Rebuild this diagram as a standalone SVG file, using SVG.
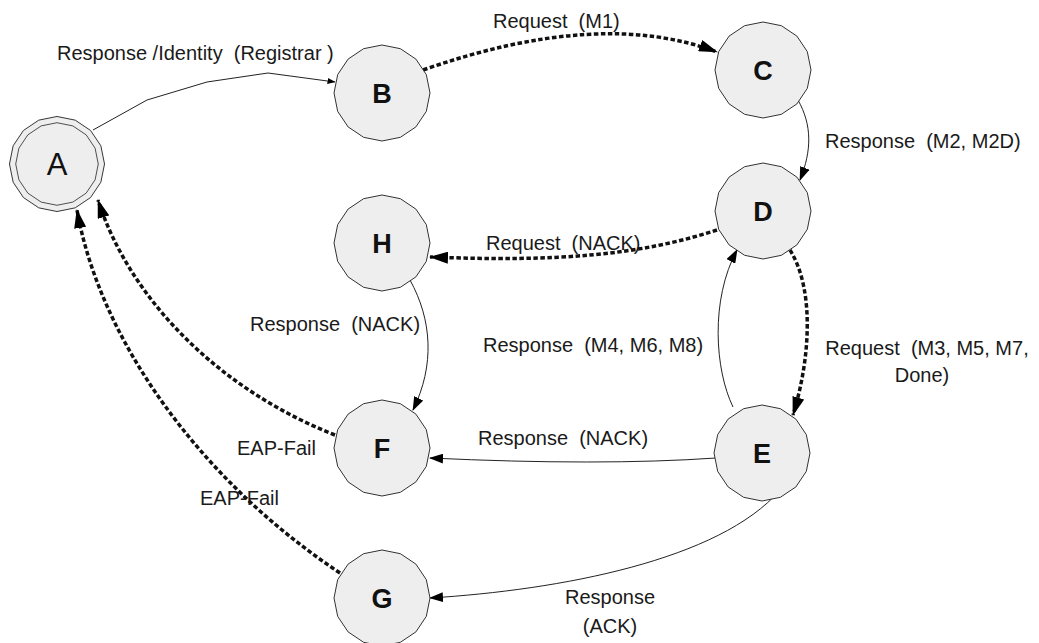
<svg xmlns="http://www.w3.org/2000/svg" xmlns:xlink="http://www.w3.org/1999/xlink" width="1039" height="643" viewBox="0 0 1039 643" xml:space="preserve">
  <style>
    .bg { fill: #ffffff; }
    .state { fill: #eeeeee; stroke: #333333; stroke-width: 1; }
    .name { font-family: "Liberation Sans", Arial, sans-serif; font-size: 27px; font-weight: bold; fill: #111111; text-anchor: middle; }
    .start-name { font-family: "Liberation Sans", Arial, sans-serif; font-size: 31px; fill: #111111; text-anchor: middle; }
    .label { font-family: "Liberation Sans", Arial, sans-serif; font-size: 20px; fill: #1a1a1a; white-space: pre; }
    .solid { fill: none; stroke: #222222; stroke-width: 1; }
    .dotted { fill: none; stroke: #111111; stroke-width: 3.5; stroke-dasharray: 4.5 2.5; }
  </style>
  <defs>
    <!-- 16-sided state outline, radius 48, centred at the origin -->
    <polygon id="state-shape" points="0,-48 18.4,-44.3 33.9,-33.9 44.3,-18.4 48,0 44.3,18.4 33.9,33.9 18.4,44.3 0,48 -18.4,44.3 -33.9,33.9 -44.3,18.4 -48,0 -44.3,-18.4 -33.9,-33.9 -18.4,-44.3"/>
    <marker id="head" markerUnits="userSpaceOnUse" markerWidth="14" markerHeight="10" refX="13" refY="5" orient="auto">
      <path d="M0,0 L14,5 L0,10 Z" fill="#000000"/>
    </marker>
    <marker id="head-large" markerUnits="userSpaceOnUse" markerWidth="19" markerHeight="12" refX="18" refY="6" orient="auto">
      <path d="M0,0 L19,6 L0,12 Z" fill="#000000"/>
    </marker>
    <marker id="head-small" markerUnits="userSpaceOnUse" markerWidth="8" markerHeight="6" refX="7.5" refY="3" orient="auto">
      <path d="M0,0 L8,3 L0,6 Z" fill="#000000"/>
    </marker>
  </defs>

  <rect class="bg" x="0" y="0" width="1039" height="643"/>

  <!-- transitions -->
  <g id="connectors">
    <polyline class="solid" points="93,130 147,100 207,82 268,73 335,82" marker-end="url(#head-small)"/>
    <path class="dotted" d="M423,70 Q600,8 717,52" marker-end="url(#head-large)"/>
    <path class="solid" d="M798,100 C812,125 812,150 800,180" marker-end="url(#head)"/>
    <path class="dotted" d="M717,230 C640,255 560,262 430,257" marker-end="url(#head-large)"/>
    <path class="solid" d="M410,280 C432,320 435,365 413,410" marker-end="url(#head)"/>
    <path class="solid" d="M733,407 C715,370 710,300 737,250" marker-end="url(#head)"/>
    <path class="dotted" d="M790,250 C815,290 810,360 793,415" marker-end="url(#head-large)"/>
    <path class="solid" d="M716,458 Q600,466 430,458" marker-end="url(#head)"/>
    <path class="dotted" d="M335,435 C220,390 130,300 98,200" marker-end="url(#head-large)"/>
    <path class="dotted" d="M340,573 C200,480 100,340 77,210" marker-end="url(#head-large)"/>
    <path class="solid" d="M780,490 C720,560 560,590 430,598" marker-end="url(#head)"/>
  </g>

  <!-- transition labels -->
  <g id="labels">
    <text class="label" x="57" y="60">Response /Identity  (Registrar )</text>
    <text class="label" x="493" y="28">Request  (M1)</text>
    <text class="label" x="825" y="148">Response  (M2, M2D)</text>
    <text class="label" x="486" y="250">Request  (NACK)</text>
    <text class="label" x="250" y="331">Response  (NACK)</text>
    <text class="label" x="483" y="352">Response  (M4, M6, M8)</text>
    <text class="label" x="927" y="355" text-anchor="middle">Request  (M3, M5, M7,</text>
    <text class="label" x="922" y="382" text-anchor="middle">Done)</text>
    <text class="label" x="478" y="445">Response  (NACK)</text>
    <text class="label" x="237" y="455">EAP-Fail</text>
    <text class="label" x="200" y="505">EAP-Fail</text>
    <text class="label" x="610" y="604" text-anchor="middle">Response</text>
    <text class="label" x="610" y="633" text-anchor="middle">(ACK)</text>
  </g>

  <!-- states -->
  <g id="node-A">
    <use xlink:href="#state-shape" class="state" transform="translate(57,164) scale(0.99)"/>
    <use xlink:href="#state-shape" class="state" transform="translate(57,164) scale(0.86)"/>
    <text class="start-name" x="57" y="175">A</text>
  </g>
  <g id="node-B">
    <use xlink:href="#state-shape" class="state" x="382" y="93"/>
    <text class="name" x="382" y="103">B</text>
  </g>
  <g id="node-C">
    <use xlink:href="#state-shape" class="state" x="763" y="70"/>
    <text class="name" x="763" y="80">C</text>
  </g>
  <g id="node-D">
    <use xlink:href="#state-shape" class="state" x="763" y="211"/>
    <text class="name" x="763" y="221">D</text>
  </g>
  <g id="node-H">
    <use xlink:href="#state-shape" class="state" x="382" y="243"/>
    <text class="name" x="382" y="253">H</text>
  </g>
  <g id="node-F">
    <use xlink:href="#state-shape" class="state" x="382" y="448"/>
    <text class="name" x="382" y="458">F</text>
  </g>
  <g id="node-E">
    <use xlink:href="#state-shape" class="state" x="762" y="453"/>
    <text class="name" x="762" y="463">E</text>
  </g>
  <g id="node-G">
    <use xlink:href="#state-shape" class="state" x="382" y="598"/>
    <text class="name" x="382" y="608">G</text>
  </g>
</svg>
